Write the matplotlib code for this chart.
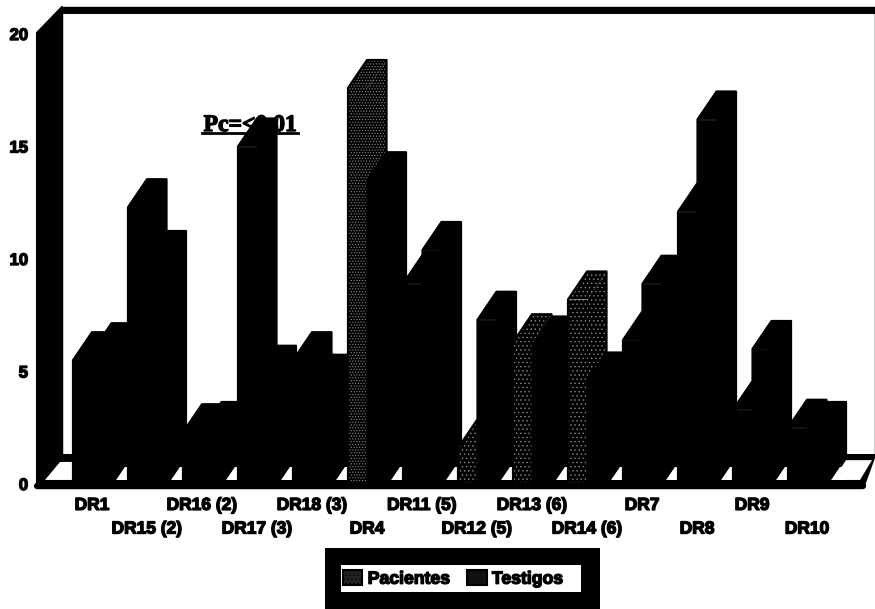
import matplotlib
matplotlib.use("Agg")
import matplotlib.pyplot as plt
import matplotlib.patheffects as pe
from matplotlib.patches import Polygon, Patch, Rectangle

categories = ["DR1", "DR15 (2)", "DR16 (2)", "DR17 (3)", "DR18 (3)", "DR4", "DR11 (5)",
              "DR12 (5)", "DR13 (6)", "DR14 (6)", "DR7", "DR8", "DR9", "DR10"]
pacientes = [5.5, 12.3, 2.3, 15.0, 5.5, 17.6, 8.9, 1.6, 6.3, 8.2, 6.4, 12.1, 3.3, 2.5]
testigos = [5.9, 10.0, 2.4, 4.9, 4.5, 13.5, 10.4, 7.3, 6.2, 4.6, 8.9, 16.2, 6.0, 2.4]
hatch_p = {"DR4": "......", "DR13 (6)": "....", "DR14 (6)": "....", "DR12 (5)": "...."}
y_ticks = [0, 5, 10, 15, 20]

W, H = 875, 609
PX = 55.0      # pixels per category
PY = 22.5      # pixels per unit
DX = 19 / PX   # bar depth offset
DY = 28 / PY
BW = 19.5 / PX
WALL_DX = 25 / PX
WALL_DY = 33 / PY
XLIM = (-1, 14.236)

plt.rcParams["hatch.linewidth"] = 0.5
fig = plt.figure(figsize=(W / 100, H / 100), dpi=100, facecolor="white")
ax = fig.add_axes([37 / W, (H - 484) / H, 838 / W, 450 / H])
ax.set_xlim(*XLIM)
ax.set_ylim(0, 20)
ax.patch.set_visible(False)
for s in ax.spines.values():
    s.set_visible(False)


def poly(pts, z, fc="black", ec="black", lw=1.5, hatch=None):
    p = Polygon(pts, closed=True, fc=fc, ec=ec, lw=lw, hatch=hatch, zorder=z,
                clip_on=False, joinstyle="round")
    ax.add_patch(p)
    return p


x0, x1 = XLIM[0], XLIM[1] - WALL_DX
y_base = -0.18
wall_top = 21.2
# back wall outline
poly([(x0 + WALL_DX, y_base + WALL_DY), (x0 + WALL_DX, wall_top),
      (XLIM[1], wall_top), (XLIM[1], y_base + WALL_DY)], 1, fc="white", lw=1)
ax.plot([x0 + WALL_DX, XLIM[1]], [21.07, 21.07], color="black", lw=5, zorder=1.5,
        clip_on=False, solid_capstyle="butt")
# left wall
poly([(x0, y_base), (x0, 20.05), (x0 + WALL_DX, wall_top), (x0 + WALL_DX, y_base + WALL_DY)], 2)
# floor
poly([(x0, y_base), (x0 + WALL_DX, y_base + WALL_DY), (XLIM[1], y_base + WALL_DY),
      (x1 + 13 / PX, y_base)], 2)
# white floor: open ends and the low strip that shows between the bars
poly([(x0 + 8 / PX, 0.18), (x0 + 23 / PX, 0.98), (x0 + 35 / PX, 0.98), (x0 + 35 / PX, 0.18)],
     2.5, fc="white", lw=0)
poly([(x0 + 35 / PX, 0.18), (x0 + 35 / PX, 0.75), (x1 - 5 / PX, 0.75), (x1 - 5 / PX, 0.18)],
     2.5, fc="white", lw=0)
poly([(x1 - 17 / PX, 0.18), (x1 - 4 / PX, 1.06), (x1 + 22 / PX, 1.06), (x1 + 10 / PX, 0.18)],
     2.5, fc="white", lw=0)

# bars, painted from left to right
z = 3.0
for i, cat in enumerate(categories):
    for j, val in enumerate((pacientes[i], testigos[i])):
        left = i - 19 / PX + j * BW
        right = left + BW
        h = hatch_p.get(cat) if j == 0 else None
        ec = "#8a8a8a" if h else "black"
        lw = 0 if h else 0.6
        ax.bar(left, val, BW, bottom=0, align="edge", color="black", edgecolor=ec,
               linewidth=lw, hatch=h, zorder=z, clip_on=False)
        poly([(right, 0), (right, val), (right + DX, val + DY), (right + DX, DY)], z + 0.1,
             ec=ec, lw=lw, hatch=h)
        poly([(left, val), (right, val), (right + DX, val + DY), (left + DX, val + DY)], z + 0.2,
             ec=ec, lw=lw, hatch=h)
        poly([(left, 0), (left, val), (left + DX, val + DY), (right + DX, val + DY),
              (right + DX, DY), (right, 0)], z + 0.3, fc="none", lw=1.6)
        z += 0.5

# front floor band above the bar feet
ax.plot([x0, x1 + 13 / PX], [y_base + 0.1, y_base + 0.1], color="black", lw=4.5, zorder=z,
        clip_on=False, solid_capstyle="round")

# axes text
blob = [pe.withStroke(linewidth=1.0, foreground="black")]
ax.set_yticks(y_ticks)
ax.set_xticks(range(len(categories)))
ax.set_xticklabels(categories)
ax.tick_params(axis="both", length=0)
ax.tick_params(axis="y", pad=6.5)
for t in ax.get_yticklabels():
    t.set(fontfamily="Liberation Sans", fontweight="bold", fontsize=12, path_effects=blob)
for i, tick in enumerate(ax.xaxis.get_major_ticks()):
    tick.set_pad(10 if i % 2 == 0 else 27)
    tick.label1.set(fontfamily="Liberation Sans", fontweight="bold", fontsize=12.5,
                    path_effects=blob)

# annotation
ax.text((250 - 92) / PX, (484 - 131) / PY, "Pc=<0.01", ha="center", va="baseline",
        fontfamily="Liberation Serif", fontweight="bold", fontsize=17, zorder=z + 1,
        path_effects=blob, clip_on=False)
ax.plot([(202 - 92) / PX, (298 - 92) / PX], [(484 - 133) / PY] * 2, color="black", lw=2,
        zorder=z + 1, clip_on=False)

# legend with heavy black frame
fig.add_artist(Rectangle((325 / W, 0), 275 / W, (H - 548) / H, transform=fig.transFigure,
                         fc="black", ec="none", zorder=5))
fig.add_artist(Rectangle((341 / W, (H - 592) / H), 240 / W, 27 / H, transform=fig.transFigure,
                         fc="white", ec="none", zorder=5.5))
handles = [Patch(fc="#222222", ec="black", lw=1.5, hatch="....", label="Pacientes"),
           Patch(fc="#111111", ec="black", lw=1.5, label="Testigos")]
leg = fig.legend(handles=handles, ncol=2, loc="center left",
                 bbox_to_anchor=(343 / W, (H - 579) / H), frameon=False,
                 prop={"family": "Liberation Sans", "weight": "bold", "size": 12.7},
                 handlelength=1.1, handleheight=0.9, handletextpad=0.3, columnspacing=0.95,
                 borderpad=0, borderaxespad=0)
leg.set_zorder(6)
for t in leg.get_texts():
    t.set_path_effects(blob)

fig.savefig("out.png", dpi=100, facecolor="white")
